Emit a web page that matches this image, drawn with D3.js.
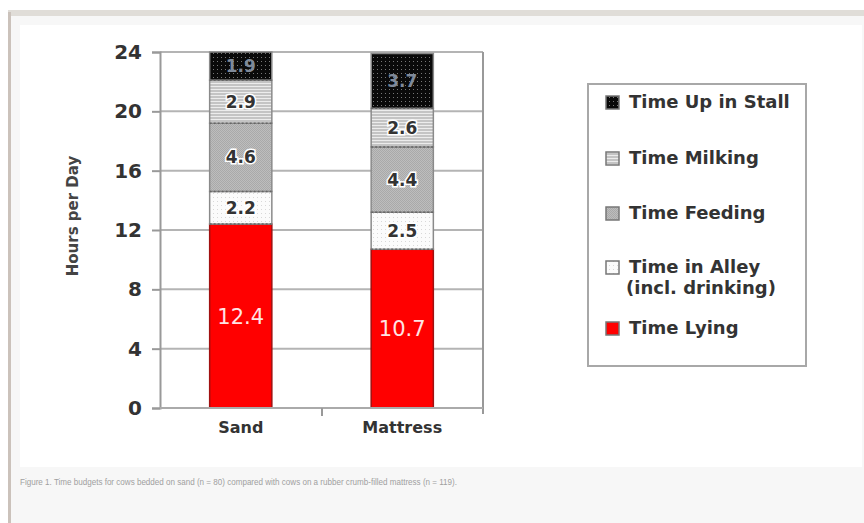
<!DOCTYPE html>
<html><head><meta charset="utf-8">
<script src="https://cdn.jsdelivr.net/npm/d3@7"></script>
<style>html,body{margin:0;padding:0;background:#fff;}svg{display:block;}</style>
</head><body>
<svg id="c" width="864" height="523"></svg>
<script>
const categories = ["Sand", "Mattress"];
const seriesNames = ["Time Lying", "Time in Alley", "Time Feeding", "Time Milking", "Time Up in Stall"];
const lying   = [12.4, 10.7];
const alley   = [2.2, 2.5];
const feeding = [4.6, 4.4];
const milking = [2.9, 2.6];
const upStall = [1.9, 3.7];
const yTicks = [0, 4, 8, 12, 16, 20, 24];
const legendLabels = [["Time Up in Stall"], ["Time Milking"], ["Time Feeding"], ["Time in Alley", "(incl. drinking)"], ["Time Lying"]];
const caption = "Figure 1. Time budgets for cows bedded on sand (n = 80) compared with cows on a rubber crumb-filled mattress (n = 119).";

const FONT = "'DejaVu Sans', Verdana, sans-serif";
const svg = d3.select("#c");
const defs = svg.append("defs");
let p = defs.append("pattern").attr("id","pUp").attr("width",4).attr("height",4).attr("patternUnits","userSpaceOnUse");
p.append("rect").attr("width",4).attr("height",4).attr("fill","#0a0a0a");
p.append("rect").attr("x",1).attr("y",1).attr("width",1).attr("height",1).attr("fill","#777");
p = defs.append("pattern").attr("id","pMilk").attr("width",4).attr("height",3).attr("patternUnits","userSpaceOnUse");
p.append("rect").attr("width",4).attr("height",3).attr("fill","#c4c4c4");
p.append("rect").attr("y",2).attr("width",4).attr("height",1).attr("fill","#ececec");
p = defs.append("pattern").attr("id","pFeed").attr("width",2).attr("height",2).attr("patternUnits","userSpaceOnUse");
p.append("rect").attr("width",2).attr("height",2).attr("fill","#bdbdbd");
p.append("rect").attr("width",1).attr("height",1).attr("fill","#a9a9a9");
p.append("rect").attr("x",1).attr("y",1).attr("width",1).attr("height",1).attr("fill","#a9a9a9");
p = defs.append("pattern").attr("id","pAlley").attr("width",4).attr("height",4).attr("patternUnits","userSpaceOnUse");
p.append("rect").attr("width",4).attr("height",4).attr("fill","#fbfbfb");
p.append("rect").attr("x",1).attr("y",1).attr("width",1).attr("height",1).attr("fill","#d8d8d8");

const fills = ["#ff0000", "url(#pAlley)", "url(#pFeed)", "url(#pMilk)", "url(#pUp)"];
const labelColors = ["#ffe4e4", "#333", "#333", "#333", "#7f8a9a"];

// frame
svg.append("rect").attr("x",0).attr("y",0).attr("width",864).attr("height",523).attr("fill","#fff");
svg.append("rect").attr("x",8).attr("y",16).attr("width",856).attr("height",507).attr("fill","#f7f7f7");
svg.append("rect").attr("x",8).attr("y",10).attr("width",856).attr("height",6).attr("fill","#e0ddd8");
svg.append("rect").attr("x",8).attr("y",12).attr("width",3).attr("height",511).attr("fill","#cbc2bb");
svg.append("rect").attr("x",20).attr("y",25).attr("width",842).attr("height",442).attr("fill","#ffffff");

// scales
const x = d3.scaleBand().domain(categories).range([160, 483]).padding(0);
const y = d3.scaleLinear().domain([0, 24]).range([408, 52]);
const barW = x.bandwidth() * 0.385;

// gridlines
svg.append("g").selectAll("line").data(yTicks.filter(t=>t>0)).join("line")
  .attr("x1",160).attr("x2",483).attr("y1",d=>y(d)).attr("y2",d=>y(d))
  .attr("stroke","#b4b4b4").attr("stroke-width",2);
svg.append("line").attr("x1",483).attr("x2",483).attr("y1",y(24)).attr("y2",y(0)+6).attr("stroke","#999").attr("stroke-width",2);

// stacked bars
const rows = categories.map((c,i)=>({cat:c, v:[lying[i], alley[i], feeding[i], milking[i], upStall[i]]}));
const g = svg.append("g");
rows.forEach(r=>{
  let base = 0;
  const x0 = x(r.cat) + (x.bandwidth()-barW)/2;
  r.v.forEach((v,k)=>{
    const y0 = y(base), y1 = y(base+v);
    g.append("rect").attr("x",x0).attr("y",y1).attr("width",barW).attr("height",y0-y1)
      .attr("fill",fills[k]).attr("stroke", k===0 ? "#a01010" : "#8a8a8a").attr("stroke-width",1.5);
    if (k>0) g.append("line").attr("x1",x0).attr("x2",x0+barW).attr("y1",y0).attr("y2",y0)
      .attr("stroke","#666").attr("stroke-width",1.5).attr("stroke-dasharray","2,2");
    base += v;
  });
  base = 0;
  r.v.forEach((v,k)=>{
    const y0 = y(base), y1 = y(base+v);
    const t = g.append("text").attr("x",x0+barW/2).attr("y",(y0+y1)/2).attr("dy","0.36em")
      .attr("text-anchor","middle").attr("font-family",FONT)
      .attr("fill",labelColors[k]).text(v.toFixed(1));
    if (k===0) t.attr("font-size",21).attr("font-weight","normal");
    else if (k===4) t.attr("font-size",17).attr("font-weight","bold");
    else t.attr("font-size",17).attr("font-weight","bold").attr("stroke","#fff").attr("stroke-width",3).attr("paint-order","stroke");
    base += v;
  });
});

// axes
const yAxis = d3.axisLeft(y).tickValues(yTicks).tickSize(8).tickPadding(10);
const ya = svg.append("g").attr("transform","translate(160,0)").call(yAxis);
ya.select(".domain").attr("stroke","#999").attr("stroke-width",2);
ya.selectAll(".tick line").attr("stroke","#999").attr("stroke-width",2);
ya.selectAll("text").attr("font-family",FONT).attr("font-size",20).attr("font-weight","bold").attr("fill","#333");

const xAxis = d3.axisBottom(x).tickSize(0).tickPadding(14);
const xa = svg.append("g").attr("transform","translate(0,408)").call(xAxis);
xa.select(".domain").attr("stroke","#aaa").attr("stroke-width",2).attr("d","M160,0H483");
xa.selectAll("text").attr("font-family",FONT).attr("font-size",16).attr("font-weight","bold").attr("fill","#333");
svg.append("line").attr("x1",322).attr("x2",322).attr("y1",408).attr("y2",416).attr("stroke","#999").attr("stroke-width",2);

svg.append("text").attr("transform","translate(78,216) rotate(-90)").attr("text-anchor","middle")
  .attr("font-family",FONT).attr("font-size",15).attr("font-weight","bold").attr("fill","#444")
  .text("Hours per Day");

// legend
svg.append("rect").attr("x",588).attr("y",84).attr("width",218).attr("height",282).attr("fill","#fff").attr("stroke","#a8a8a8").attr("stroke-width",2);
const legFill = ["url(#pUp)", "url(#pMilk)", "url(#pFeed)", "url(#pAlley)", "#ff0000"];
const legY = [102, 158, 213, 267, 328];
legendLabels.forEach((lines,i)=>{
  svg.append("rect").attr("x",606).attr("y",legY[i]-6).attr("width",13).attr("height",13).attr("fill",legFill[i]).attr("stroke","#777").attr("stroke-width",1.5);
  lines.forEach((ln,j)=>{
    svg.append("text").attr("x", j===0?629:626).attr("y",legY[i]+j*21).attr("dy","0.36em")
      .attr("font-family",FONT).attr("font-size",18).attr("font-weight","bold").attr("fill","#333")
      .text(ln);
  });
});

// caption
svg.append("text").attr("x",20).attr("y",485).attr("font-family","'Liberation Sans Narrow', Arial, sans-serif").attr("font-size",9)
  .attr("fill","#a0a0a0").attr("textLength",437).attr("lengthAdjust","spacingAndGlyphs").text(caption);
</script>
</body></html>
